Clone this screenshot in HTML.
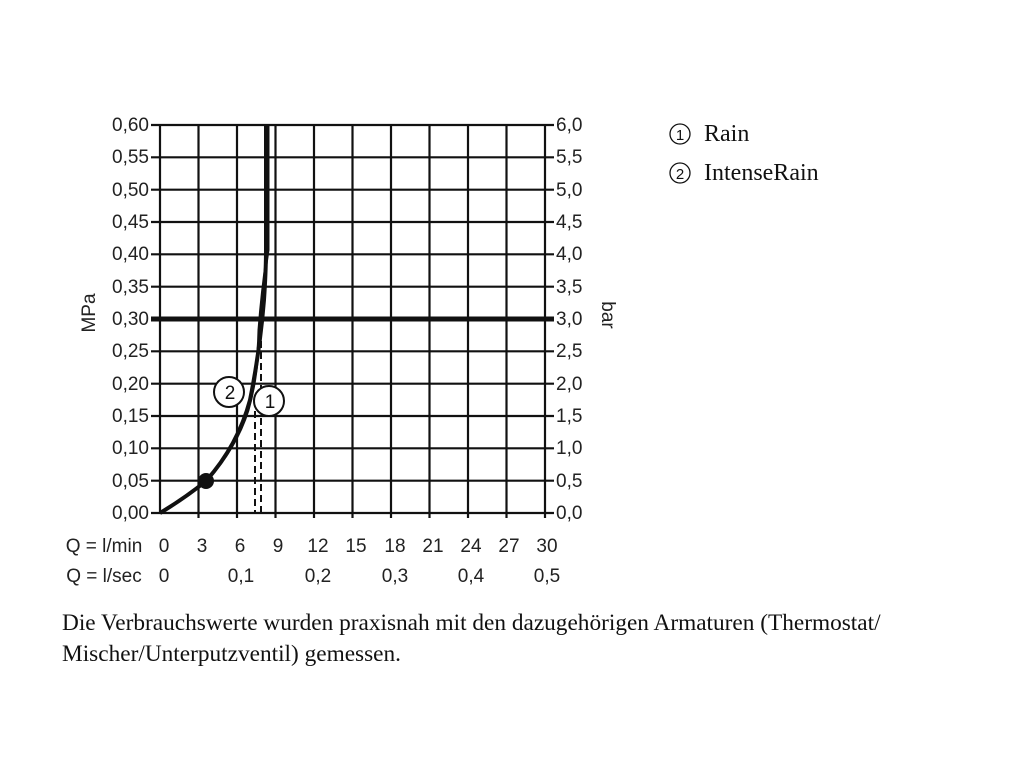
<!DOCTYPE html>
<html><head><meta charset="utf-8"><style>
html,body{margin:0;padding:0;background:#fff;}
svg{display:block}
</style></head><body>
<svg width="1024" height="768" xmlns="http://www.w3.org/2000/svg" font-family="Liberation Sans, sans-serif">
<rect width="1024" height="768" fill="#fff"/>
<g stroke="#111" stroke-width="2.2">
<line x1="160" y1="125" x2="160" y2="513"/>
<line x1="198.5" y1="125" x2="198.5" y2="518"/>
<line x1="237" y1="125" x2="237" y2="518"/>
<line x1="275.5" y1="125" x2="275.5" y2="518"/>
<line x1="314" y1="125" x2="314" y2="518"/>
<line x1="352.5" y1="125" x2="352.5" y2="518"/>
<line x1="391" y1="125" x2="391" y2="518"/>
<line x1="429.5" y1="125" x2="429.5" y2="518"/>
<line x1="468" y1="125" x2="468" y2="518"/>
<line x1="506.5" y1="125" x2="506.5" y2="518"/>
<line x1="545" y1="125" x2="545" y2="518"/>
<line x1="151" y1="125" x2="554" y2="125"/>
<line x1="151" y1="157.3" x2="554" y2="157.3"/>
<line x1="151" y1="189.7" x2="554" y2="189.7"/>
<line x1="151" y1="222" x2="554" y2="222"/>
<line x1="151" y1="254.3" x2="554" y2="254.3"/>
<line x1="151" y1="286.7" x2="554" y2="286.7"/>
<line x1="151" y1="351.3" x2="554" y2="351.3"/>
<line x1="151" y1="383.7" x2="554" y2="383.7"/>
<line x1="151" y1="416" x2="554" y2="416"/>
<line x1="151" y1="448.3" x2="554" y2="448.3"/>
<line x1="151" y1="480.7" x2="554" y2="480.7"/>
<line x1="151" y1="513" x2="554" y2="513"/>
</g>
<line x1="151" y1="319" x2="554" y2="319" stroke="#111" stroke-width="5"/>
<g stroke="#111" stroke-width="2" stroke-dasharray="7,4">
<line x1="255" y1="400" x2="255" y2="513"/>
<line x1="261" y1="330" x2="261" y2="513"/>
</g>
<g fill="none" stroke="#111">
<path d="M160 513 Q185 498 206 481 Q238 445 250 400 Q260 350 264 300 Q266 270 266 250 L266 125" stroke-width="4"/>
<path d="M160 513 Q185 498 206 481 Q236 448 248 410 Q258 375 259 330 Q262 290 268 250 L268 125" stroke-width="3"/>
</g>
<circle cx="206" cy="481" r="8" fill="#111"/>
<g fill="#fff" stroke="#111" stroke-width="2">
<circle cx="229" cy="392" r="15"/>
<circle cx="269" cy="401" r="15"/>
</g>
<g font-size="19" fill="#111" text-anchor="middle">
<text x="230" y="399">2</text>
<text x="270" y="408">1</text>
</g>
<g font-size="19" fill="#222" text-anchor="end">
<text x="149" y="131">0,60</text>
<text x="149" y="163">0,55</text>
<text x="149" y="196">0,50</text>
<text x="149" y="228">0,45</text>
<text x="149" y="260">0,40</text>
<text x="149" y="293">0,35</text>
<text x="149" y="325">0,30</text>
<text x="149" y="357">0,25</text>
<text x="149" y="390">0,20</text>
<text x="149" y="422">0,15</text>
<text x="149" y="454">0,10</text>
<text x="149" y="487">0,05</text>
<text x="149" y="519">0,00</text>
</g>
<g font-size="19" fill="#222">
<text x="556" y="131">6,0</text>
<text x="556" y="163">5,5</text>
<text x="556" y="196">5,0</text>
<text x="556" y="228">4,5</text>
<text x="556" y="260">4,0</text>
<text x="556" y="293">3,5</text>
<text x="556" y="325">3,0</text>
<text x="556" y="357">2,5</text>
<text x="556" y="390">2,0</text>
<text x="556" y="422">1,5</text>
<text x="556" y="454">1,0</text>
<text x="556" y="487">0,5</text>
<text x="556" y="519">0,0</text>
</g>
<text transform="translate(95,313) rotate(-90)" font-size="19" fill="#222" text-anchor="middle">MPa</text>
<text transform="translate(602,315) rotate(90)" font-size="19" fill="#222" text-anchor="middle">bar</text>
<g font-size="19" fill="#222" text-anchor="middle">
<text x="104" y="552">Q = l/min</text>
<text x="164" y="552">0</text><text x="202" y="552">3</text><text x="240" y="552">6</text>
<text x="278" y="552">9</text><text x="318" y="552">12</text><text x="356" y="552">15</text>
<text x="395" y="552">18</text><text x="433" y="552">21</text><text x="471" y="552">24</text>
<text x="509" y="552">27</text><text x="547" y="552">30</text>
<text x="104" y="582">Q = l/sec</text>
<text x="164" y="582">0</text><text x="241" y="582">0,1</text><text x="318" y="582">0,2</text>
<text x="395" y="582">0,3</text><text x="471" y="582">0,4</text><text x="547" y="582">0,5</text>
</g>
<g font-family="Liberation Serif, serif" fill="#111">
<circle cx="680" cy="134" r="10" fill="none" stroke="#111" stroke-width="1.3"/>
<text x="680" y="140" font-size="15" text-anchor="middle" font-family="Liberation Sans, sans-serif">1</text>
<text x="704" y="141" font-size="24">Rain</text>
<circle cx="680" cy="173" r="10" fill="none" stroke="#111" stroke-width="1.3"/>
<text x="680" y="179" font-size="15" text-anchor="middle" font-family="Liberation Sans, sans-serif">2</text>
<text x="704" y="180" font-size="24">IntenseRain</text>
<text x="62" y="630" font-size="23.3">Die Verbrauchswerte wurden praxisnah mit den dazugehörigen Armaturen (Thermostat/</text>
<text x="62" y="661" font-size="23.3">Mischer/Unterputzventil) gemessen.</text>
</g>
</svg>
</body></html>
